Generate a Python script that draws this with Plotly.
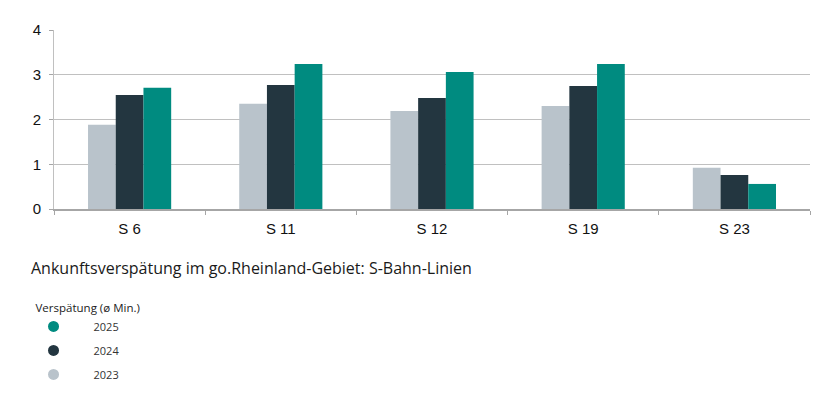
import plotly.graph_objects as go

categories = ["S 6", "S 11", "S 12", "S 19", "S 23"]
years = ["2023", "2024", "2025"]
values_2023 = [1.88, 2.35, 2.19, 2.30, 0.92]
values_2024 = [2.55, 2.77, 2.48, 2.75, 0.76]
values_2025 = [2.71, 3.24, 3.06, 3.24, 0.56]
colors = {"2023": "#B9C3CB", "2024": "#233640", "2025": "#008B80"}
series = {"2023": values_2023, "2024": values_2024, "2025": values_2025}

W, H = 830, 401
ML, MR, MT, MB = 53.5, 20, 30, 192
PW, PH = W - ML - MR, H - MT - MB

def px_x(x):
    return (x - ML) / PW

def px_y(y):
    return (H - MB - y) / PH

fig = go.Figure()
for yr in years:
    fig.add_trace(go.Bar(x=categories, y=series[yr], name=yr,
                         marker=dict(color=colors[yr], line=dict(width=0)),
                         showlegend=False))
pad = "\u00a0" * 7
for yr in reversed(years):
    fig.add_trace(go.Scatter(x=[None], y=[None], mode="markers", name=pad + yr,
                             legendgroup=yr,
                             marker=dict(color=colors[yr], size=11, symbol="circle")))

fig.update_layout(
    width=W, height=H,
    margin=dict(l=ML, r=MR, t=MT, b=MB, pad=0),
    paper_bgcolor="white", plot_bgcolor="white",
    barmode="group", bargap=0.45, bargroupgap=0,
    font=dict(family="Liberation Sans, Arial", size=15, color="#222222"),
    xaxis=dict(showgrid=False, showline=True, linecolor="#A6A6A6", linewidth=1.5,
               ticks="outside", tickson="boundaries", ticklen=4, tickcolor="#A6A6A6",
               ticklabelstandoff=5,
               tickfont=dict(size=15, color="#111111"), fixedrange=True),
    yaxis=dict(range=[0, 4], dtick=1, showgrid=True, gridcolor="#C0C0C0", gridwidth=1,
               showline=True, linecolor="#C0C0C0", linewidth=1,
               ticks="outside", ticklen=4, tickcolor="#A6A6A6",
               ticklabelstandoff=5,
               tickfont=dict(size=15, color="#111111"), zeroline=False),
    legend=dict(x=px_x(33), y=px_y(297), xanchor="left", yanchor="top",
                title=dict(text="Verspätung (ø Min.)", font=dict(family="Open Sans, Noto Sans", size=11.5, color="#222222")),
                font=dict(family="Open Sans, Noto Sans", size=11, color="#333333"),
                tracegroupgap=5, bgcolor="rgba(0,0,0,0)"),
    annotations=[dict(text="Ankunftsverspätung im go.Rheinland-Gebiet: S-Bahn-Linien",
                      xref="paper", yref="paper", x=px_x(28), y=px_y(268),
                      xanchor="left", yanchor="middle", showarrow=False,
                      font=dict(family="Open Sans, Noto Sans", size=16, color="#1a1a1a"))],
)

fig.write_html("out.html")
